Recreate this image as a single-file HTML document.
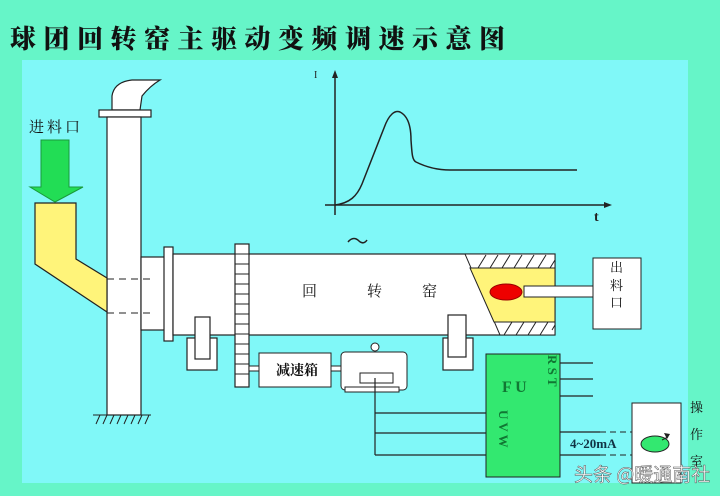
<!DOCTYPE html>
<html><head><meta charset="utf-8"><style>
html,body{margin:0;padding:0;}
body{width:720px;height:496px;background:#66F5C8;position:relative;overflow:hidden;font-family:"Liberation Serif","Noto Serif CJK SC",serif;}
.t{position:absolute;left:10px;top:20px;font-size:26px;font-weight:900;letter-spacing:7.5px;color:#111;font-family:"Noto Serif CJK SC","Noto Sans CJK SC",serif;line-height:36px;}
svg{position:absolute;left:0;top:0;}
</style></head><body>
<svg width="720" height="496" viewBox="0 0 720 496" font-family="Liberation Serif, Noto Serif CJK SC, serif">
<rect x="22" y="60" width="666" height="423" fill="#80F8F8"/>
<g stroke="#222" stroke-width="1.2" fill="#fff">
<path d="M112,110 L112,96 Q114,82 132,80 L160,80 Q150,86 142,96 L140,110 Z"/>
<rect x="99" y="110" width="52" height="7"/>
<rect x="107" y="117" width="34" height="298"/>
<path d="M35,203 L76,203 L76,259 L107,278 L107,312 L35,264 Z" fill="#FFF47A"/>
<rect x="141" y="257" width="24" height="73"/>
<rect x="164" y="247" width="9" height="94"/>
<rect x="173" y="254" width="382" height="81"/>
<rect x="187" y="338" width="30" height="32"/>
<rect x="195" y="317" width="15" height="42"/>
<rect x="443" y="338" width="30" height="32"/>
<rect x="448" y="315" width="18" height="42"/>
<rect x="235" y="244" width="14" height="143"/>
</g>
<g stroke="#222" stroke-width="1">
<path d="M235,254h14M235,264h14M235,274h14M235,284h14M235,294h14M235,304h14M235,314h14M235,324h14M235,334h14M235,344h14M235,354h14M235,364h14M235,374h14"/>
</g>
<g stroke="#222" stroke-width="1" stroke-dasharray="7,5"><path d="M107,279H155M107,313H155"/></g>
<path d="M465,254 L555,254 L555,335 L500,335 Z" fill="#fff" stroke="#222"/>
<path d="M470,268 L555,268 L555,322 L494,322 Z" fill="#FFF47A" stroke="#222"/>
<g stroke="#222" stroke-width="1"><path d="M478,268l8,-13M490,268l8,-13M502,268l8,-13M514,268l8,-13M526,268l8,-13M538,268l8,-13M550,268l5,-8M504,335l8,-13M516,335l8,-13M528,335l8,-13M540,335l8,-13M552,330l3,-5"/></g>
<ellipse cx="506" cy="292" rx="16" ry="8" fill="#E00" stroke="#900"/>
<rect x="524" y="286" width="69" height="11" fill="#fff" stroke="#222"/>
<rect x="593" y="258" width="48" height="71" fill="#fff" stroke="#222"/>
<g stroke="#222" fill="#fff">
<rect x="249" y="366" width="10" height="5"/>
<rect x="259" y="353" width="72" height="34"/>
<rect x="331" y="366" width="10" height="5"/>
<rect x="341" y="352" width="66" height="38" rx="4"/>
<rect x="345" y="387" width="54" height="5"/>
<circle cx="375" cy="347" r="4"/>
<rect x="360" y="373" width="33" height="10"/>
</g>
<g stroke="#222" stroke-width="1.2" fill="none">
<path d="M375,378V455M375,413H486M375,433H486M375,455H486"/>
<path d="M560,363H593M560,379H593M560,396H593"/>
<path d="M560,432H600M560,455H600M650,432H656"/>
</g>
<g stroke="#222" stroke-dasharray="6,4"><path d="M600,432H650M600,455H632"/></g>
<rect x="486" y="354" width="74" height="123" fill="#33E870" stroke="#222"/>
<rect x="632" y="403" width="49" height="80" fill="#fff" stroke="#222"/>
<ellipse cx="655" cy="444" rx="14" ry="8" fill="#33E870" stroke="#222"/>
<path d="M662,440 L668,437" stroke="#222"/><path d="M664,433l6,1l-3,5z" fill="#222"/>
<g stroke="#222"><path d="M93,415H151M96,424l4,-9M103,424l4,-9M110,424l4,-9M117,424l4,-9M124,424l4,-9M131,424l4,-9M138,424l4,-9M145,424l4,-9"/></g>
<path d="M41,140H69V187H83L55,202L30,187H41Z" fill="#22DD55" stroke="#1a9a3a"/>
<g stroke="#222" stroke-width="1.5" fill="none">
<path d="M335,215V75M325,205H608"/>
<path d="M335,205 C350,203 357,196 362,184 L384,128 C389,114 395,110 400,112 C408,116 411,126 411,140 C412,153 412,160 416,162 C428,168 440,170 450,170 H577"/>
<path d="M348,242 C352,237 356,238 359,241 C362,244 365,243 367,240"/>
</g>
<path d="M335,70l-3,8h6z M612,205l-8,-3v6z" fill="#222"/>
<text x="314" y="78" font-size="10" fill="#222">I</text>
<text x="594" y="221" font-size="14" font-weight="bold" fill="#222">t</text>
<g font-family="Noto Serif CJK SC, serif" fill="#111">
<text x="29" y="132" font-size="15" letter-spacing="3">进料口</text>
<text x="302" y="296" font-size="15">回</text>
<text x="367" y="296" font-size="15">转</text>
<text x="422" y="296" font-size="15">窑</text>
<text x="276" y="375" font-size="14" font-weight="bold">减速箱</text>
<text x="610" y="272" font-size="13">出</text>
<text x="610" y="290" font-size="13">料</text>
<text x="610" y="307" font-size="13">口</text>
<text x="690" y="412" font-size="13">操</text>
<text x="690" y="439" font-size="13">作</text>
<text x="690" y="466" font-size="13">室</text>
</g>
<g font-weight="bold" fill="#173" font-size="16">
<text x="502" y="392">F U</text>
</g>
<g font-weight="bold" fill="#173" font-size="13">
<text transform="translate(548,355) rotate(90)">R S T</text>
<text transform="translate(499,410) rotate(90)">U V W</text>
</g>
<text x="570" y="448" font-size="13" font-weight="bold" fill="#134">4~20mA</text>
<text x="574" y="481" font-size="19" fill="#fff" stroke="#555" stroke-width="0.5" font-family="Noto Sans CJK SC, sans-serif">头条 @暖通南社</text>
</svg>
<div class="t">球团回转窑主驱动变频调速示意图</div>
</body></html>
